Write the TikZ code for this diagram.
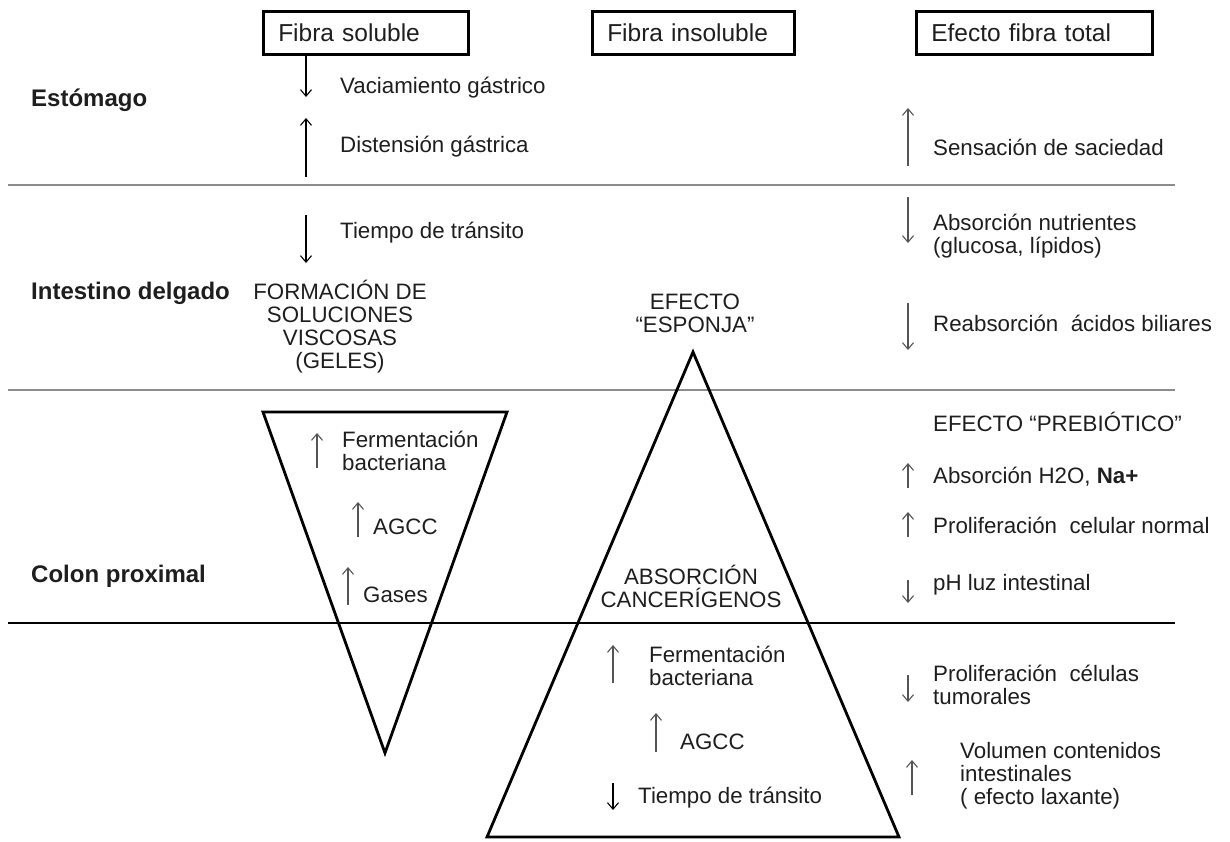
\documentclass[tikz,border=0pt]{standalone}
\usepackage{fontspec}
\setmainfont{Liberation Sans}
\usetikzlibrary{positioning, arrows.meta}
\definecolor{txt}{HTML}{1E1E1E}
\definecolor{rulegray}{HTML}{8C8C8C}
\definecolor{arrgray}{HTML}{555555}

\begin{document}
\begin{tikzpicture}[x=1pt, y=-1pt,
	every node/.style = {text=txt, inner sep=0pt,
		font=\fontsize{22.3}{23}\selectfont},
	head/.style = {draw=black, line width=2.5pt, anchor=north west,
		minimum height=43pt, inner xsep=15pt, align=left,
		font=\fontsize{24.5}{24}\selectfont},
	item/.style = {anchor=west, align=left},
	mid/.style = {align=center},
	organ/.style = {anchor=west, font=\fontsize{24}{24}\selectfont\bfseries},
	flow/.style = {-{Straight Barb[length=6.5pt,width=11pt]}, line width=1.1pt, draw=black},
	flowgray/.style = {flow, draw=arrgray},
	cone/.style = {draw=black, line width=2.8pt, line join=miter}]

	\useasboundingbox (0,0) rectangle (1230,841);

	% separadores
	\coordinate (r1a) at (8,185);  \coordinate (r1b) at (1175,185);
	\coordinate (r2a) at (8,390);  \coordinate (r2b) at (1175,390);
	\coordinate (r3a) at (8,623);  \coordinate (r3b) at (1175,623);
	\draw[rulegray, line width=2.2pt] (r1a) -- (r1b);
	\draw[rulegray, line width=1.5pt] (r2a) -- (r2b);
	\draw[black, line width=1.3pt] (r3a) -- (r3b);

	% cabeceras
	\node (sol) [head, text width=175pt] at (262,10) {Fibra soluble};
	\node (insol) [head, text width=172pt] at (591,10) {Fibra insoluble};
	\node (total) [head, text width=206pt] at (915,10) {Efecto fibra total};

	\node (esto) [organ] at (31,100) {Estómago};
	\node (intes) [organ] at (31,293) {Intestino delgado};
	\node (colon) [organ] at (31,576) {Colon proximal};

	% fibra soluble
	\node (vac) [item] at (340,88) {Vaciamiento gástrico};
	\node (dist) [item] at (340,147) {Distensión gástrica};
	\node (tiem1) [item] at (340,233) {Tiempo de tránsito};
	\node (gel) [mid] at (340,327) {FORMACIÓN DE\\SOLUCIONES\\VISCOSAS\\(GELES)};
	\coordinate (vacT) at (306,97);
	\coordinate (distA) at (306,177); \coordinate (distB) at (306,118);
	\coordinate (tiemA) at (306,215); \coordinate (tiemB) at (306,263);
	\draw[flow] (sol.south -| vacT) -- (vacT);
	\draw[flow] (distA) -- (distB);
	\draw[flow] (tiemA) -- (tiemB);

	\coordinate (s1) at (263,412); \coordinate (s2) at (507,412); \coordinate (s3) at (385,753);
	\draw[cone] (s1) -- (s2) -- (s3) -- cycle;
	\node (ferm1) [item] at (342,451) {Fermentación\\bacteriana};
	\node (agcc1) [item] at (373,527) {AGCC};
	\node (gas) [item] at (363,595) {Gases};
	\coordinate (f1A) at (317,468); \coordinate (f1B) at (317,433);
	\coordinate (a1A) at (358,537); \coordinate (a1B) at (358,502);
	\coordinate (gA) at (348,605);  \coordinate (gB) at (348,567);
	\draw[flowgray] (f1A) -- (f1B);
	\draw[flowgray] (a1A) -- (a1B);
	\draw[flowgray] (gA) -- (gB);

	% fibra insoluble
	\node (esp) [mid] at (695,313) {EFECTO\\“ESPONJA”};
	\coordinate (i1) at (693,352); \coordinate (i2) at (899,837); \coordinate (i3) at (487,837);
	\draw[cone] (i1) -- (i2) -- (i3) -- cycle;
	\node (canc) [mid] at (691,586) {ABSORCIÓN\\CANCERÍGENOS};
	\node (ferm2) [item] at (649,666) {Fermentación\\bacteriana};
	\node (agcc2) [item] at (680,742) {AGCC};
	\node (tiem2) [item] at (638,798) {Tiempo de tránsito};
	\coordinate (f2A) at (613,683); \coordinate (f2B) at (613,645);
	\coordinate (a2A) at (656,752); \coordinate (a2B) at (656,713);
	\coordinate (t2A) at (613,783); \coordinate (t2B) at (613,810);
	\draw[flowgray] (f2A) -- (f2B);
	\draw[flowgray] (a2A) -- (a2B);
	\draw[flow] (t2A) -- (t2B);

	% efecto fibra total
	\node (sac) [item] at (933,147) {Sensación de saciedad};
	\node (nutr) [item] at (933,236) {Absorción nutrientes\\(glucosa, lípidos)};
	\node (bili) [item] at (933,323) {Reabsorción~ ácidos biliares};
	\node (preb) [item] at (933,422) {EFECTO “PREBIÓTICO”};
	\node (agua) [item] at (933,477) {Absorción H2O, \textbf{Na+}};
	\node (prol) [item] at (933,525) {Proliferación~ celular normal};
	\node (ph) [item] at (933,585) {pH luz intestinal};
	\node (tum) [item] at (933,685) {Proliferación~ células\\tumorales};
	\node (vol) [item] at (960,776) {Volumen contenidos\\intestinales\\( efecto laxante)};
	\coordinate (sacA) at (908,166); \coordinate (sacB) at (908,108);
	\coordinate (nuA) at (908,197);  \coordinate (nuB) at (908,243);
	\coordinate (biA) at (908,303);  \coordinate (biB) at (908,350);
	\coordinate (agA) at (908,488);  \coordinate (agB) at (908,463);
	\coordinate (prA) at (908,537);  \coordinate (prB) at (908,512);
	\coordinate (phA) at (908,580);  \coordinate (phB) at (908,603);
	\coordinate (tuA) at (908,675);  \coordinate (tuB) at (908,702);
	\coordinate (voA) at (912,795);  \coordinate (voB) at (912,760);
	\foreach \a/\b in {sacA/sacB, nuA/nuB, biA/biB, agA/agB, prA/prB, phA/phB, tuA/tuB, voA/voB}
		\draw[flowgray] (\a) -- (\b);
\end{tikzpicture}
\end{document}
